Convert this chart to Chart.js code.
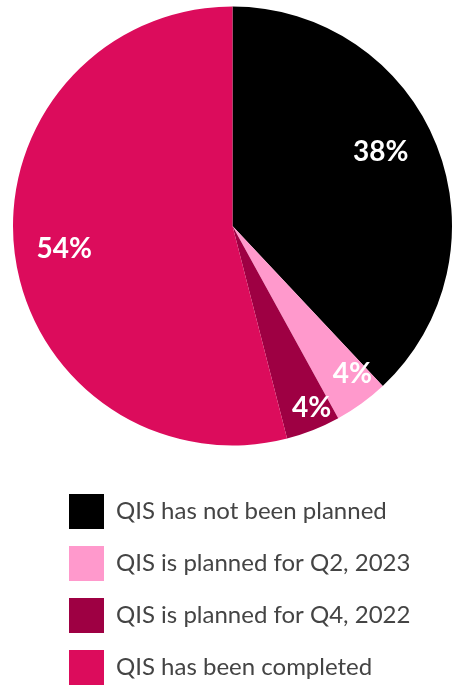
<!DOCTYPE html>
<html>
<head>
<meta charset="utf-8">
<script src="https://cdn.jsdelivr.net/npm/chart.js@4"></script>
<style>
  html, body { margin: 0; padding: 0; background: #ffffff; overflow: hidden; }
  #wrap { position: relative; width: 456px; height: 687px; }
</style>
</head>
<body>
<div id="wrap"><canvas id="qis"></canvas></div>
<script>
// QIS status breakdown (percent of respondents)
const categories = [
  'QIS has not been planned',
  'QIS is planned for Q2, 2023',
  'QIS is planned for Q4, 2022',
  'QIS has been completed'
];
const shares = [38, 4, 4, 54];
const sliceColors = ['#000000', '#FF99CC', '#9E0043', '#DC0C5C'];

// Where each percentage label sits: fraction of the radius, and a small
// angular nudge (degrees) away from the slice's middle
const labelPlacement = [[0.757, -5.2], [0.864, -3.2], [0.90, -2.0], [0.773, -0.4]];

const sliceLabels = {
  id: 'sliceLabels',
  afterDatasetsDraw(chart) {
    const ctx = chart.ctx;
    const meta = chart.getDatasetMeta(0);
    ctx.save();
    ctx.fillStyle = '#ffffff';
    ctx.font = 'bold 28px Lato';
    ctx.textAlign = 'center';
    ctx.textBaseline = 'alphabetic';
    meta.data.forEach((arc, i) => {
      const p = arc.getProps(['x', 'y', 'startAngle', 'endAngle', 'outerRadius'], true);
      const [rf, shift] = labelPlacement[i];
      const a = (p.startAngle + p.endAngle) / 2 + shift * Math.PI / 180;
      const r = p.outerRadius * rf;
      ctx.fillText(shares[i] + '%', p.x + r * Math.cos(a), p.y + r * Math.sin(a) + 10);
    });
    ctx.restore();
  }
};

// Moves the legend block under the pie, indented from the left edge
const legendPlacement = {
  id: 'legendPlacement',
  afterLayout(chart) {
    const lg = chart.legend;
    if (!lg) return;
    const dx = 52 - lg.left;
    lg.left += dx;
    lg.right += dx;
    lg.top = 477;
    lg.bottom = lg.top + lg.height;
  }
};

new Chart(document.getElementById('qis'), {
  type: 'pie',
  data: {
    labels: categories,
    datasets: [{
      data: shares,
      backgroundColor: sliceColors,
      borderWidth: 0
    }]
  },
  options: {
    responsive: true,
    maintainAspectRatio: false,
    animation: false,
    events: [],
    layout: { padding: { top: 6.5, left: 13, right: 4, bottom: 23.5 } },
    plugins: {
      tooltip: { enabled: false },
      legend: {
        position: 'bottom',
        align: 'start',
        labels: {
          boxWidth: 35,
          boxHeight: 35,
          padding: 17,
          color: '#444444',
          font: { family: 'Lato', size: 24 }
        }
      }
    }
  },
  plugins: [sliceLabels, legendPlacement]
});
</script>
</body>
</html>
